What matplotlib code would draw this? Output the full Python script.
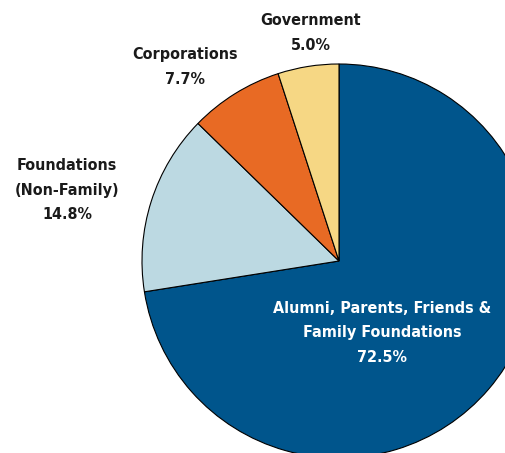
import matplotlib.pyplot as plt

labels = ["Alumni, Parents, Friends &\nFamily Foundations", "Foundations\n(Non-Family)", "Corporations", "Government"]
values = [72.5, 14.8, 7.7, 5.0]
colors = ["#00558C", "#BCD9E2", "#E86A24", "#F6D784"]

W, H = 505, 453
fig = plt.figure(figsize=(W / 100, H / 100), dpi=100)
ax = fig.add_axes([0, 0, 1, 1])

# pie center / radius in pixel units (y measured from bottom)
cx, cy, r = 339, H - 261, 197
ax.pie(values, colors=colors, startangle=90, counterclock=False,
       center=(cx, cy), radius=r,
       wedgeprops=dict(edgecolor="black", linewidth=0.8))
ax.set_xlim(0, W)
ax.set_ylim(0, H)
ax.set_aspect("equal")
ax.axis("off")

font = dict(family="DejaVu Sans", stretch="condensed", weight="bold",
            fontsize=11.5, ha="center", va="center", linespacing=1.8)

# label anchor positions (pixel coords from top)
label_pos = [(382, 333), (67, 190), (185, 67), (311, 33)]
for i, (lab, val, (x, y)) in enumerate(zip(labels, values, label_pos)):
    txt = f"{lab}\n{val:.1f}%"
    ax.text(x, H - y, txt, color="white" if i == 0 else "#1a1a1a", **font)

fig.savefig("out.png", dpi=100)
